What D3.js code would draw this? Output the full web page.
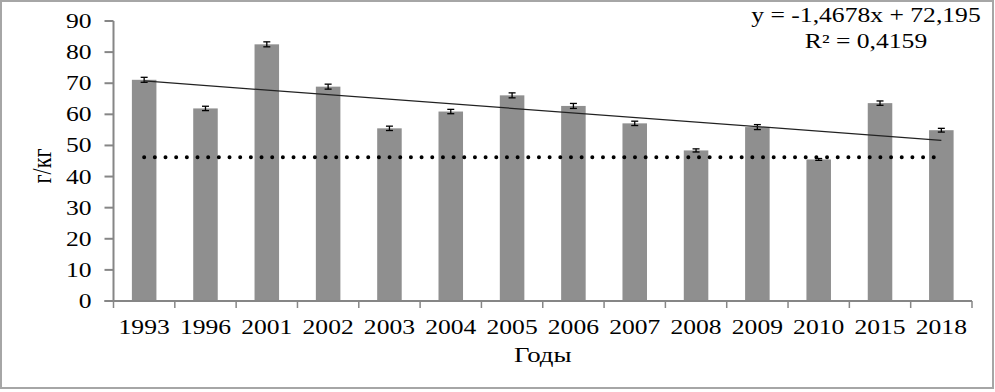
<!DOCTYPE html>
<html>
<head>
<meta charset="utf-8">
<script src="https://cdn.jsdelivr.net/npm/d3@7.9.0/dist/d3.min.js"></script>
<style>
  body { margin: 0; background: #fff; }
  text { font-family: "Liberation Serif", "DejaVu Serif", serif; fill: #000; }
</style>
</head>
<body>
<div id="chart"></div>
<script>
// data
const years = ['1993', '1996', '2001', '2002', '2003', '2004', '2005', '2006', '2007', '2008', '2009', '2010', '2015', '2018'];
const values = [71.1, 61.9, 82.5, 68.9, 55.5, 60.9, 66.1, 62.7, 57.1, 48.4, 55.9, 45.5, 63.6, 54.9];
const errors = [0.8, 0.7, 0.8, 0.8, 0.7, 0.7, 0.8, 0.8, 0.7, 0.5, 0.8, 0.3, 0.7, 0.6];
const yTicks = [0, 10, 20, 30, 40, 50, 60, 70, 80, 90];
const trend = { slope: -1.4678, intercept: 72.195 };
const normLevel = 46.2;
const eqLines = ['y = -1,4678x + 72,195', 'R² = 0,4159'];

const width = 995;
const height = 392;
const margin = { top: 21, right: 23, bottom: 91, left: 113.5 };
const sx = 1.28; // picture is stretched sideways

const svg = d3.select('#chart')
    .append('svg')
    .attr('width', width)
    .attr('height', height);

// outer frame
svg.append('rect')
    .attr('x', 1).attr('y', 1)
    .attr('width', width - 3).attr('height', height - 5)
    .attr('fill', 'none')
    .attr('stroke', '#a6a6a6')
    .attr('stroke-width', 2);

const xScale = d3.scaleBand()
    .domain(years)
    .range([margin.left, width - margin.right])
    .paddingInner(0.6)
    .paddingOuter(0.3);

const yScale = d3.scaleLinear()
    .domain([0, 90])
    .range([height - margin.bottom, margin.top]);

const bottom = yScale(0);
const step = xScale.step();
const center = d => xScale(d) + xScale.bandwidth() / 2;

function label(x, y, str, anchor, size) {
    svg.append('text')
        .attr('transform', `translate(${x},${y}) scale(${sx},1)`)
        .attr('text-anchor', anchor)
        .attr('font-size', size + 'px')
        .text(str);
}

// bars
svg.append('g')
    .selectAll('rect')
    .data(years)
    .enter()
    .append('rect')
    .attr('x', d => xScale(d))
    .attr('y', (d, i) => yScale(values[i]))
    .attr('width', xScale.bandwidth())
    .attr('height', (d, i) => bottom - yScale(values[i]))
    .attr('fill', '#8f8f8f');

// error bars
const err = svg.append('g').attr('stroke', '#000').attr('stroke-width', 1.3);
years.forEach((d, i) => {
    const cx = center(d);
    const top = yScale(values[i] + errors[i]);
    const bot = yScale(values[i] - errors[i]);
    err.append('line').attr('x1', cx).attr('x2', cx).attr('y1', top).attr('y2', bot);
    err.append('line').attr('x1', cx - 3.5).attr('x2', cx + 3.5).attr('y1', top).attr('y2', top);
    err.append('line').attr('x1', cx - 3.5).attr('x2', cx + 3.5).attr('y1', bot).attr('y2', bot);
});

// dotted norm line
svg.append('line')
    .attr('x1', center(years[0]))
    .attr('x2', center(years[years.length - 1]) - xScale.bandwidth() * 0.3)
    .attr('y1', yScale(normLevel))
    .attr('y2', yScale(normLevel))
    .attr('stroke', '#000')
    .attr('stroke-width', 4)
    .attr('stroke-linecap', 'round')
    .attr('stroke-dasharray', '0,10.67');

// linear trend
const n = years.length;
svg.append('line')
    .attr('x1', center(years[0]))
    .attr('y1', yScale(trend.slope * 1 + trend.intercept))
    .attr('x2', center(years[n - 1]))
    .attr('y2', yScale(trend.slope * n + trend.intercept))
    .attr('stroke', '#222')
    .attr('stroke-width', 1.2);

// axes
const axisColor = '#868686';
svg.append('line')
    .attr('x1', margin.left).attr('x2', margin.left)
    .attr('y1', yScale(90)).attr('y2', bottom)
    .attr('stroke', axisColor).attr('stroke-width', 2);
svg.append('line')
    .attr('x1', margin.left - 9).attr('x2', width - margin.right)
    .attr('y1', bottom).attr('y2', bottom)
    .attr('stroke', axisColor).attr('stroke-width', 2);

yTicks.forEach(t => {
    svg.append('line')
        .attr('x1', margin.left - 9).attr('x2', margin.left)
        .attr('y1', yScale(t)).attr('y2', yScale(t))
        .attr('stroke', axisColor).attr('stroke-width', 2);
    label(margin.left - 22, yScale(t) + 7, t, 'end', 20);
});

d3.range(n + 1).forEach(i => {
    const x = margin.left + i * step;
    svg.append('line')
        .attr('x1', x).attr('x2', x)
        .attr('y1', bottom).attr('y2', bottom + 7)
        .attr('stroke', axisColor).attr('stroke-width', 1.5);
});

years.forEach(d => label(center(d), bottom + 33, d, 'middle', 20));

// axis titles
label((margin.left + width - margin.right) / 2, bottom + 61, 'Годы', 'middle', 21);
svg.append('text')
    .attr('transform', `translate(51,166) scale(${sx},1) rotate(-90)`)
    .attr('text-anchor', 'middle')
    .attr('font-size', '22px')
    .text('г/кг');

// trendline equation
label(866, 22, eqLines[0], 'middle', 20);
label(866, 48, eqLines[1], 'middle', 20);
</script>
</body>
</html>
